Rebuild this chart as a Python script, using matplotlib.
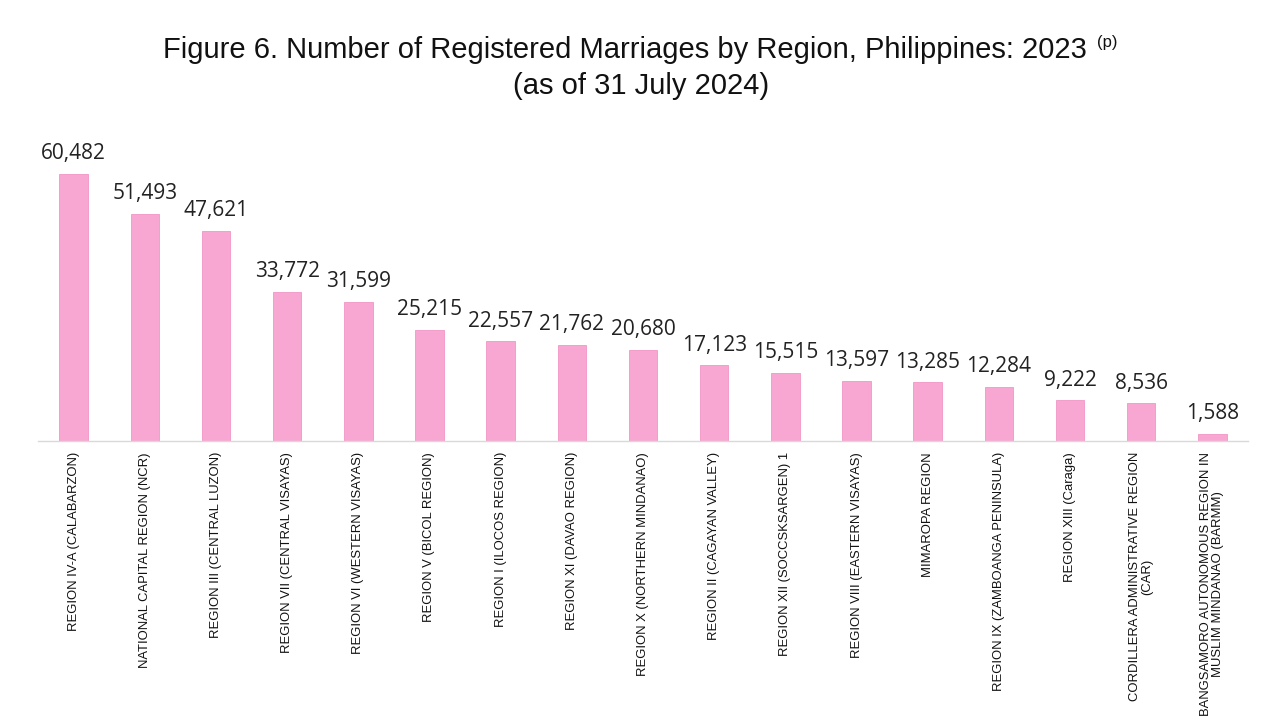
import matplotlib
matplotlib.use("Agg")
import matplotlib.pyplot as plt

regions = [
    "REGION IV-A (CALABARZON)",
    "NATIONAL CAPITAL REGION (NCR)",
    "REGION III (CENTRAL LUZON)",
    "REGION VII (CENTRAL VISAYAS)",
    "REGION VI (WESTERN VISAYAS)",
    "REGION V (BICOL REGION)",
    "REGION I (ILOCOS REGION)",
    "REGION XI (DAVAO REGION)",
    "REGION X (NORTHERN MINDANAO)",
    "REGION II (CAGAYAN VALLEY)",
    "REGION XII (SOCCSKSARGEN) 1",
    "REGION VIII (EASTERN VISAYAS)",
    "MIMAROPA REGION",
    "REGION IX (ZAMBOANGA PENINSULA)",
    "REGION XIII (Caraga)",
    "CORDILLERA ADMINISTRATIVE REGION\n(CAR)",
    "BANGSAMORO AUTONOMOUS REGION IN\nMUSLIM MINDANAO (BARMM)",
]
marriages = [60482, 51493, 47621, 33772, 31599, 25215, 22557, 21762, 20680,
             17123, 15515, 13597, 13285, 12284, 9222, 8536, 1588]

fig = plt.figure(figsize=(12.65, 7.25), dpi=100)
ax = fig.add_axes([38/1265, (725-441)/725, (1248-38)/1265, (441-130)/725])

x = list(range(len(regions)))
ax.bar(x, marriages, width=0.4, color="#F7A7D1", edgecolor="#F196C6", linewidth=0.6)
ax.set_xlim(-0.5, len(regions) - 0.5)
ax.set_ylim(0, 60482 * (441 - 130) / 267)

for xi, v in zip(x, marriages):
    ax.annotate(f"{v:,}", (xi, v), xytext=(0, 7), textcoords="offset points",
                ha="center", va="bottom", fontsize=15, family="Open Sans", color="#222222")

ax.set_xticks(x)
ax.set_xticklabels(regions, rotation=90, ha="center", va="top", fontsize=9.4,
                   family="Liberation Sans", multialignment="center", color="#111111",
                   linespacing=1.0)
ax.tick_params(axis="x", length=0, pad=8)
ax.set_yticks([])
for s in ["left", "right", "top"]:
    ax.spines[s].set_visible(False)
ax.spines["bottom"].set_color("#D9D9D9")
ax.spines["bottom"].set_linewidth(1.0)

fig.text((632.5 - 8) / 1265, 1 - 50/725,
         "Figure 6. Number of Registered Marriages by Region, Philippines: 2023",
         ha="center", va="center", fontsize=21, family="Liberation Sans", color="#111111")
fig.text(1097 / 1265, 1 - 43/725, "(p)",
         ha="left", va="center", fontsize=12, family="Liberation Sans", color="#111111")
fig.text(641 / 1265, 1 - 86/725, "(as of 31 July 2024)",
         ha="center", va="center", fontsize=21, family="Liberation Sans", color="#111111")

fig.savefig("out.png", dpi=100, facecolor="white")
